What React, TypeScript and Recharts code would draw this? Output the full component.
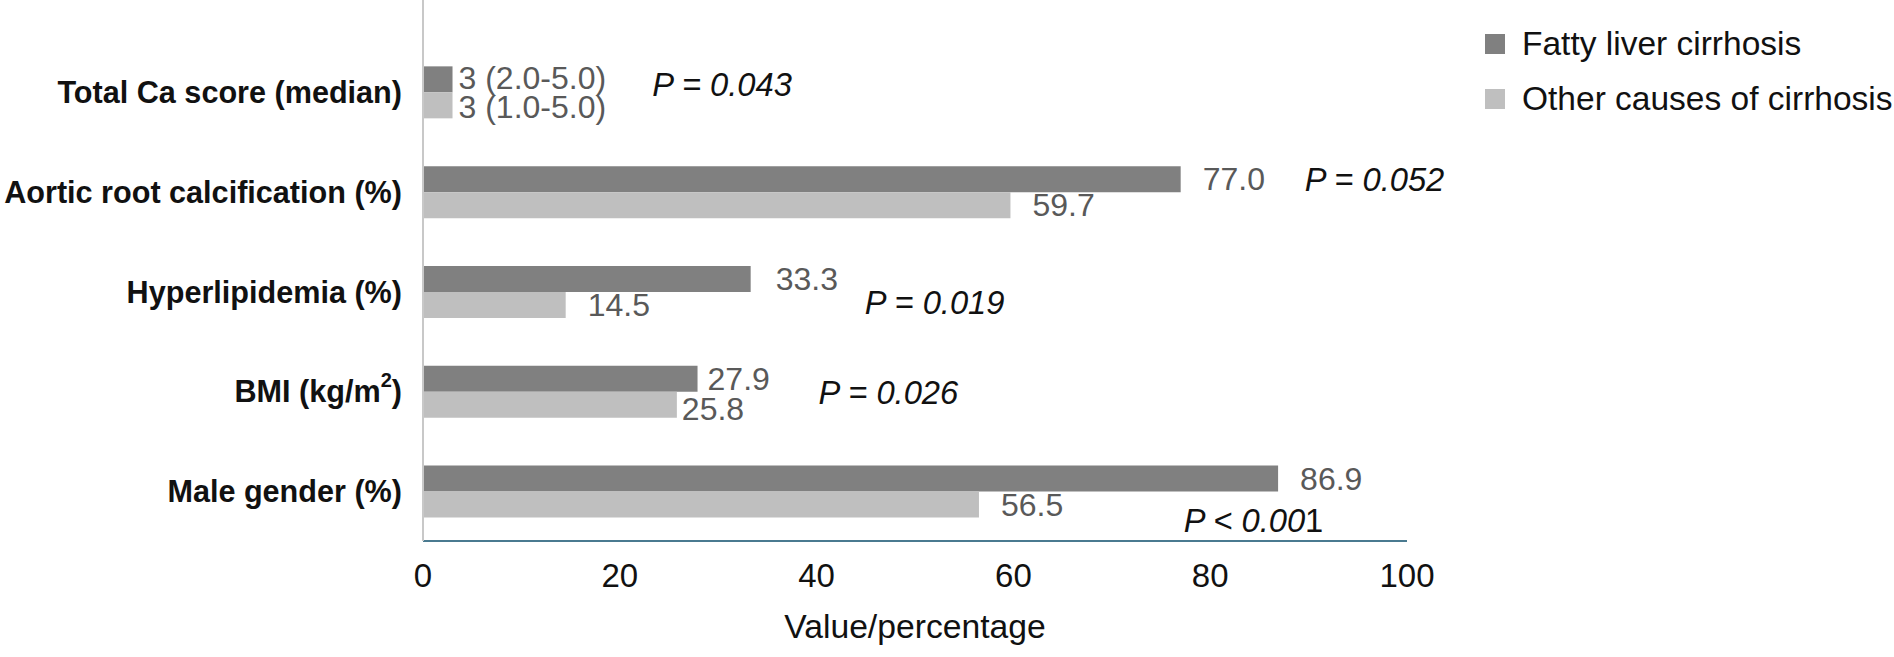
import React from "react";
import {
  Bar,
  BarChart,
  Label,
  LabelList,
  Legend,
  ReferenceDot,
  XAxis,
  YAxis,
} from "recharts";

const categories = [
  "Total Ca score (median)",
  "Aortic root calcification (%)",
  "Hyperlipidemia (%)",
  "BMI (kg/m2)",
  "Male gender (%)",
];
const fattyValues = [3, 77.0, 33.3, 27.9, 86.9];
const otherValues = [3, 59.7, 14.5, 25.8, 56.5];
const fattyText = ["3 (2.0-5.0)", "77.0", "33.3", "27.9", "86.9"];
const otherText = ["3 (1.0-5.0)", "59.7", "14.5", "25.8", "56.5"];
const pValues = ["P = 0.043", "P = 0.052", "P = 0.019", "P = 0.026", "P < 0.001"];
// where each P label starts, in axis units
const pValueAnchor = [23.3, 89.6, 44.9, 40.2, 77.3];
const xTicks = [0, 20, 40, 60, 80, 100];

const FATTY = "#808080";
const OTHER = "#bfbfbf";
const FONT = "'Liberation Sans', Arial, sans-serif";

// small per-row nudges so labels sit like the original
const fattyDx = [6, 22, 25, 10, 22];
const fattyDy = [-1, 0, 0, 0, 0];
const otherDx = [6, 22, 22, 5, 22];
const otherDy = [2, 0, 0, 4, 0];
const pDy = [-7, -12, 11, 1, 29];

const data = categories.map((name, i) => ({
  name,
  fatty: fattyValues[i],
  other: otherValues[i],
}));

const CategoryTick = (props: any) => {
  const { x, y, payload } = props;
  const value: string = payload.value;
  const common = {
    x,
    y,
    textAnchor: "end" as const,
    dominantBaseline: "central" as const,
    fontFamily: FONT,
    fontSize: 30.6,
    fontWeight: 700,
    fill: "#111",
  };
  if (value === "BMI (kg/m2)") {
    return (
      <text {...common}>
        BMI (kg/m
        <tspan fontSize={20} dy={-11}>2</tspan>
        <tspan dy={11}>)</tspan>
      </text>
    );
  }
  return <text {...common}>{value}</text>;
};

const valueLabel = (texts: string[], dxs: number[], dys: number[]) =>
  function ValueLabel(props: any) {
    const { x, y, width, height, index } = props;
    return (
      <text
        x={x + width + dxs[index]}
        y={y + height / 2 + dys[index]}
        dominantBaseline="central"
        fontFamily={FONT}
        fontSize={32}
        fill="#595959"
      >
        {texts[index]}
      </text>
    );
  };

const pLabel = (text: string, dy: number) =>
  function PLabel(props: any) {
    const { x, y } = props.viewBox;
    const last = text.endsWith("0.001");
    return (
      <text
        x={x}
        y={y + dy}
        dominantBaseline="central"
        fontFamily={FONT}
        fontSize={32.7}
        fontStyle="italic"
        fill="#111"
      >
        {last ? text.slice(0, -1) : text}
        {last && <tspan fontStyle="normal">1</tspan>}
      </text>
    );
  };

const LegendContent = () => (
  <div style={{ fontFamily: FONT, fontSize: 33.5, color: "#111" }}>
    {[
      { label: "Fatty liver cirrhosis", color: FATTY },
      { label: "Other causes of cirrhosis", color: OTHER },
    ].map((item) => (
      <div
        key={item.label}
        style={{ display: "flex", alignItems: "center", height: 55, whiteSpace: "nowrap", lineHeight: 1 }}
      >
        <span style={{ width: 20, height: 20, background: item.color, marginRight: 17, display: "inline-block" }} />
        {item.label}
      </div>
    ))}
  </div>
);

export default function App() {
  return (
    <div style={{ position: "absolute", left: 0, top: 0, width: 1894, height: 657, background: "#fff" }}>
      <BarChart
        width={1894}
        height={657}
        data={data}
        layout="vertical"
        margin={{ top: 0, right: 487, bottom: 0, left: 0 }}
        barCategoryGap="24.4%"
        barGap={0}
      >
        <XAxis
          type="number"
          domain={[0, 100]}
          ticks={xTicks}
          height={116}
          tickLine={false}
          tickSize={0}
          tickMargin={23}
          axisLine={{ stroke: "#4a7a90", strokeWidth: 2 }}
          tick={{ fontFamily: FONT, fontSize: 33, fill: "#111" }}
        >
          <Label
            value="Value/percentage"
            position="insideBottom"
            offset={19}
            style={{ fontFamily: FONT, fontSize: 33.7, fill: "#111" }}
          />
        </XAxis>
        <YAxis
          type="category"
          dataKey="name"
          width={423}
          padding={{ top: 42, bottom: 0 }}
          tickLine={false}
          tickSize={0}
          tickMargin={21}
          axisLine={{ stroke: "#c8c8c8", strokeWidth: 2 }}
          tick={<CategoryTick />}
          interval={0}
        />
        <Legend
          layout="horizontal"
          verticalAlign="middle"
          align="center"
          content={<LegendContent />}
          wrapperStyle={{ left: 1485, top: 16, width: 409, height: 110 }}
        />
        <Bar dataKey="fatty" fill={FATTY} isAnimationActive={false}>
          <LabelList dataKey="fatty" content={valueLabel(fattyText, fattyDx, fattyDy)} />
        </Bar>
        <Bar dataKey="other" fill={OTHER} isAnimationActive={false}>
          <LabelList dataKey="other" content={valueLabel(otherText, otherDx, otherDy)} />
        </Bar>
        {categories.map((name, i) => (
          <ReferenceDot
            key={name}
            x={pValueAnchor[i]}
            y={name}
            r={0}
            fill="none"
            stroke="none"
            label={pLabel(pValues[i], pDy[i])}
          />
        ))}
      </BarChart>
    </div>
  );
}
